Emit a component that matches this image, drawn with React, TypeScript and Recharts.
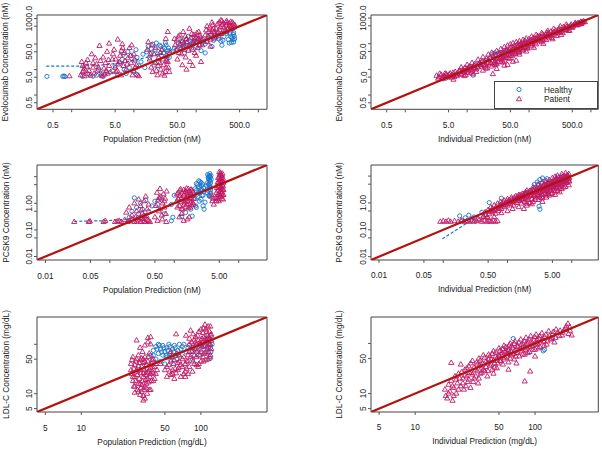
import React from "react";
import { ScatterChart, Scatter, XAxis, YAxis, ReferenceArea } from "recharts";

type Pt = [number, number];

// ---- axis ticks ----
const EVO_TICKS = [0.5, 1, 5, 10, 50, 100, 500, 1000];
const EVO_X_LABELS = ["0.5", "", "5.0", "", "50.0", "", "500.0", ""];
const EVO_Y_LABELS = ["0.5", "", "5.0", "", "50.0", "", "", "1000.0"];
const PCSK9_TICKS = [0.01, 0.05, 0.1, 0.5, 1, 5, 10];
const PCSK9_X_LABELS = ["0.01", "0.05", "", "0.50", "", "5.00", ""];
const PCSK9_Y_LABELS = ["0.01", "", "0.10", "", "1.00", "", ""];
const LDL_TICKS = [5, 10, 50, 100];
const LDL_X_LABELS = ["5", "10", "50", "100"];
const LDL_Y_LABELS = ["5", "10", "50", ""];

const GROUPS = ["Healthy", "Patient"];

// ---- Evolocumab, population prediction ----
const EVO_POP_HEALTHY: Pt[] = [
  [0.4, 5.4], [0.72, 5.4], [0.75, 5.6], [0.78, 5.3], [1.5, 5.4], [1.9, 6.5], [2.2, 5.5], [2.5, 6], [2.7, 10], [3.0, 7],
  [3.2, 5.4], [3.6, 8], [4.5, 9], [5, 14], [5.5, 6], [6, 18], [6.5, 25], [6.8, 40], [7, 10], [7.5, 7], [8, 50],
  [8.5, 12], [9, 35], [10, 8], [10.5, 22], [10.8, 60], [11, 6.5], [11.2, 30], [12, 14], [13, 20], [14, 40], [15, 12],
  [16, 50], [17, 80], [18, 30], [19, 65], [19, 45], [20, 100], [21, 15], [22, 60], [23, 110], [24, 40], [25, 20],
  [26, 90], [27, 80], [28, 35], [29, 60], [30, 45], [31, 70], [32, 110], [33, 90], [34, 25], [35, 55], [36, 70],
  [37, 30], [38, 55], [45, 70], [50, 60], [52, 110], [55, 90], [58, 130], [60, 120], [62, 70], [65, 45], [68, 90],
  [70, 150], [75, 200], [78, 140], [80, 100], [85, 70], [88, 100], [90, 130], [95, 180], [100, 80], [105, 120],
  [110, 160], [115, 90], [120, 55], [125, 110], [130, 150], [140, 100], [140, 45], [150, 130], [160, 180], [170, 220],
  [180, 80], [190, 140], [200, 160], [210, 200], [220, 250], [230, 160], [250, 130], [260, 90], [270, 140], [280, 200],
  [300, 320], [310, 260], [330, 150], [340, 110], [350, 250], [360, 200], [370, 115], [380, 180], [390, 150],
  [395, 240], [400, 280], [400, 120], [410, 200], [415, 160],
];
const EVO_POP_PATIENT: Pt[] = [
  [0.92, 5.5], [1.4, 6], [1.45, 20], [1.5, 8], [1.5, 14], [1.55, 9], [1.6, 5.5], [1.6, 11], [1.7, 18], [1.75, 13],
  [1.8, 7], [1.8, 24], [1.9, 9], [2.0, 5.8], [2.1, 40], [2.2, 12], [2.2, 18], [2.3, 7], [2.4, 28], [2.5, 16], [2.6, 9],
  [2.7, 12], [2.8, 85], [2.9, 22], [3.0, 6], [3.1, 5.5], [3.2, 30], [3.3, 11], [3.4, 6.5], [3.5, 18], [3.6, 9],
  [3.7, 50], [3.8, 7], [3.9, 24], [4.0, 105], [4.0, 14], [4.2, 8], [4.5, 25], [4.6, 40], [4.8, 60], [5, 12], [5.1, 25],
  [5.2, 8], [5.4, 9], [5.5, 150], [5.6, 16], [5.8, 20], [6, 35], [6.2, 6], [6.3, 55], [6.5, 100], [6.6, 70], [6.8, 14],
  [7, 45], [7.2, 22], [7.5, 10], [7.8, 16], [8, 28], [8.5, 70], [8.8, 35], [9, 18], [9.2, 90], [9.5, 6], [9.8, 9],
  [10, 40], [10.2, 25], [10.5, 12], [11, 15], [11.5, 6], [12, 5.5], [16.5, 60], [17, 120], [18, 25], [18.5, 40],
  [19, 12], [19.5, 90], [20, 8], [21, 40], [22, 18], [22.5, 70], [23, 9], [24, 6], [24.5, 14], [25, 30], [26, 18],
  [26.5, 45], [27, 10], [28, 60], [29, 7], [29.5, 25], [30, 15], [31, 5.8], [32, 8], [32.5, 160], [33, 22], [33, 12],
  [34, 35], [35, 300], [35, 20], [36, 12], [37, 8], [38, 45], [45, 160], [46, 90], [48, 60], [49, 140], [50, 25],
  [52, 200], [53, 45], [55, 100], [55, 220], [57, 70], [58, 40], [60, 15], [60, 130], [62, 300], [63, 110], [65, 80],
  [65, 60], [67, 200], [68, 30], [70, 160], [70, 10], [72, 120], [75, 55], [77, 80], [78, 400], [80, 20], [82, 170],
  [85, 250], [87, 60], [88, 14], [90, 110], [92, 230], [95, 45], [95, 150], [98, 120], [100, 180], [100, 35],
  [103, 270], [105, 70], [108, 160], [110, 300], [113, 90], [115, 130], [115, 220], [118, 180], [120, 20], [123, 140],
  [125, 90], [140, 220], [145, 350], [150, 500], [150, 120], [155, 200], [160, 300], [165, 450], [170, 150], [170, 80],
  [175, 260], [180, 700], [180, 350], [185, 550], [190, 400], [195, 300], [200, 250], [200, 180], [210, 400],
  [220, 600], [225, 300], [230, 200], [235, 700], [240, 350], [245, 450], [250, 850], [255, 250], [260, 550],
  [260, 800], [270, 650], [280, 450], [290, 350], [300, 300], [300, 700], [305, 550], [310, 800], [320, 650],
  [325, 400], [340, 500], [345, 650], [350, 380], [360, 750], [365, 480], [380, 420], [385, 700], [400, 600],
  [405, 450], [420, 550],
];
const EVO_POP_SMOOTH: Pt[] = [
  [0.39, 13.7], [1.4, 13.7], [3, 15], [6, 18], [12, 25], [25, 40], [50, 70], [100, 120], [200, 200], [400, 330],
];

// ---- Evolocumab, individual prediction ----
const EVO_IND_HEALTHY: Pt[] = [
  [4.5, 4.5], [6, 5.5], [9, 9], [12, 12], [12.5, 5.9], [15, 16], [18, 19], [20, 22], [24, 28], [26, 40], [28, 44],
  [32, 42], [36, 45], [40, 48], [45, 55], [60, 65], [80, 90], [120, 130], [200, 210], [300, 320], [450, 470],
  [600, 620], [700, 720],
];
const EVO_IND_PATIENT: Pt[] = [
  [3.2, 5.7], [3.4, 4.4], [3.5, 5.0], [3.6, 6.8], [3.8, 6.2], [3.9, 4.2], [4.0, 4.6], [4.2, 5.4], [4.3, 5.5],
  [4.4, 7], [4.6, 6.5], [4.7, 5.8], [4.8, 4.9], [5.0, 5.2], [5.1, 6.3], [5.3, 7.0], [5.5, 5.6], [5.6, 4.8], [5.8, 6.0],
  [5.9, 7.4], [6.0, 4.0], [6.2, 5.2], [6.4, 8.0], [6.6, 6.3], [6.8, 5.5], [7.0, 6.8], [7.2, 7.5], [7.4, 8.5],
  [7.6, 9.0], [7.8, 6.2], [8.0, 6.5], [8.0, 12], [8.3, 8.2], [8.5, 10], [8.8, 9], [9.0, 7.8], [9.0, 5.5], [9.2, 11.5],
  [9.5, 6.0], [9.8, 9.5], [10, 11], [10, 15], [10.2, 7.2], [10.5, 8.5], [10.8, 12], [11, 13], [11.2, 9.8],
  [11.5, 7.5], [12, 9], [12, 18], [12.5, 6.5], [12.8, 11], [13, 14], [13.2, 16], [13.5, 11], [14, 10], [14, 8],
  [14.5, 13], [15, 12], [15, 24], [15.5, 16], [16, 18], [16.5, 15], [17, 13], [17.5, 21], [18, 9], [18, 30],
  [18.5, 15], [19, 20], [19.5, 13], [20, 15], [20, 11], [20.5, 26], [21, 11], [21.5, 18], [22, 24], [22, 38], [23, 16],
  [23.5, 28], [24, 18], [25, 13], [25, 45], [26, 6.6], [26, 21], [26.5, 33], [27, 28], [27.5, 18], [28, 21], [28, 15],
  [29, 17], [29.5, 36], [30, 16], [30, 10.5], [30, 52], [31, 25], [31.5, 20], [32, 35], [33, 25], [33.5, 42], [34, 28],
  [35, 19], [35, 62], [36, 30], [36.5, 24], [37, 40], [37.5, 48], [38, 30], [38, 19], [39, 36], [40, 22], [40, 14],
  [40, 75], [41, 34], [42, 50], [42.5, 28], [43, 58], [44, 35], [45, 15], [45, 85], [46, 28], [46.5, 50], [47, 42],
  [48, 60], [48, 26], [49, 34], [50, 42], [50, 95], [51, 70], [52, 50], [53, 33], [54, 56], [55, 70], [55, 20],
  [55, 105], [56, 38], [57, 45], [58, 50], [59, 80], [60, 40], [61, 60], [62, 22], [62, 115], [63, 85], [64, 55],
  [65, 72], [66, 60], [67, 100], [68, 45], [69, 56], [70, 48], [70, 125], [70, 38], [72, 95], [73, 70], [74, 85],
  [75, 70], [76, 110], [78, 60], [79, 65], [80, 55], [80, 140], [82, 90], [84, 95], [85, 110], [86, 130], [88, 75],
  [90, 80], [90, 160], [90, 50], [92, 100], [94, 70], [95, 65], [97, 100], [99, 150], [100, 125], [104, 115],
  [105, 95], [108, 140], [110, 80], [110, 190], [112, 95], [115, 120], [118, 170], [120, 150], [120, 70], [124, 130],
  [125, 110], [128, 160], [130, 95], [130, 220], [135, 140], [138, 200], [140, 175], [145, 150], [150, 130],
  [152, 190], [155, 160], [160, 115], [160, 260], [165, 240], [168, 140], [170, 210], [170, 100], [175, 180],
  [180, 160], [185, 230], [190, 140], [195, 270], [200, 240], [200, 320], [205, 200], [210, 260], [215, 190],
  [225, 300], [230, 170], [235, 220], [240, 260], [240, 150], [250, 290], [250, 380], [260, 230], [270, 330],
  [280, 200], [285, 260], [290, 300], [300, 350], [310, 390], [320, 280], [320, 480], [330, 220], [335, 300],
  [340, 330], [350, 260], [360, 450], [365, 360], [380, 420], [390, 350], [400, 350], [400, 560], [410, 470],
  [420, 400], [430, 320], [450, 430], [450, 320], [470, 500], [480, 560], [490, 450], [500, 420], [520, 480],
  [530, 540], [550, 600], [560, 650], [580, 540], [600, 520], [620, 640], [640, 560], [650, 650], [680, 580],
  [690, 720], [700, 600], [720, 680], [750, 680], [760, 760], [800, 700],
];

// ---- PCSK9, population prediction ----
const PCSK9_POP_HEALTHY: Pt[] = [
  [0.2, 0.3], [0.22, 0.5], [0.24, 1.6], [0.26, 0.7], [0.28, 0.4], [0.3, 1.0], [0.32, 0.6], [0.34, 0.35], [0.36, 1.3],
  [0.4, 0.5], [0.45, 0.8], [0.5, 1.2], [0.55, 0.9], [0.6, 1.5], [0.7, 0.4], [0.9, 0.22], [0.95, 0.3], [1.0, 2.0],
  [0.9, 0.9], [1.3, 0.32], [1.5, 0.45], [1.9, 0.33], [1.8, 0.6], [2.1, 1.5], [2.1, 3.5], [2.15, 0.8], [2.2, 3],
  [2.2, 5.5], [2.25, 2.2], [2.3, 5], [2.3, 1.8], [2.35, 4.2], [2.4, 7], [2.4, 2.6], [2.45, 1.2], [2.5, 2.5], [2.5, 4],
  [2.5, 6.5], [2.55, 3.2], [2.6, 1.4], [2.6, 6], [2.65, 4.6], [2.7, 3.2], [2.7, 2.0], [2.75, 5.3], [2.8, 2],
  [2.8, 0.8], [2.85, 3.8], [2.9, 0.6], [2.9, 2.8], [2.2, 0.7], [3.0, 1.1], [3.2, 4.5], [3.25, 2.5], [3.3, 12],
  [3.3, 6], [3.3, 3.5], [3.35, 9], [3.4, 8.5], [3.4, 3], [3.4, 5.2], [3.45, 11], [3.45, 1.9], [3.5, 10], [3.5, 2],
  [3.5, 5], [3.5, 7.5], [3.55, 4], [3.55, 13], [3.6, 7], [3.6, 1.8], [3.6, 9.5], [3.65, 3.2], [3.65, 5.8], [3.7, 11],
  [3.7, 4], [3.7, 2.4], [3.75, 8],
];
const PCSK9_POP_PATIENT: Pt[] = [
  [0.028, 0.2], [0.047, 0.2], [0.049, 0.21], [0.08, 0.2], [0.085, 0.22], [0.12, 0.2], [0.13, 0.21], [0.14, 0.22],
  [0.15, 0.2], [0.17, 0.24], [0.19, 0.2], [0.2, 0.22], [0.22, 0.25], [0.24, 0.2], [0.26, 0.21], [0.28, 0.23],
  [0.3, 0.2], [0.32, 0.26], [0.34, 0.21], [0.36, 0.2], [0.38, 0.24], [0.4, 0.22], [0.42, 0.2], [0.25, 0.3],
  [0.3, 0.28], [0.35, 0.32], [0.18, 0.45], [0.2, 0.7], [0.22, 0.35], [0.24, 1.0], [0.26, 0.5], [0.28, 1.4],
  [0.3, 0.8], [0.32, 0.42], [0.34, 1.2], [0.36, 1.8], [0.38, 0.6], [0.4, 0.9], [0.27, 0.28], [0.31, 0.55],
  [0.37, 0.33], [0.5, 0.3], [0.52, 0.8], [0.54, 2.5], [0.56, 1.3], [0.58, 0.5], [0.6, 3.5], [0.62, 1.8], [0.65, 0.25],
  [0.66, 1.0], [0.68, 2.2], [0.7, 0.7], [0.72, 1.5], [0.74, 0.4], [0.76, 2.8], [0.55, 0.22], [0.6, 0.6], [0.7, 1.2],
  [0.75, 0.2], [0.58, 1.6], [0.64, 0.35], [1.1, 1.2], [1.1, 2.2], [1.12, 0.7], [1.15, 2.5], [1.15, 1.5], [1.2, 0.8],
  [1.2, 1.9], [1.22, 3.0], [1.25, 3.4], [1.25, 1.1], [1.3, 1.6], [1.3, 0.6], [1.32, 2.6], [1.35, 0.6], [1.35, 1.3],
  [1.4, 2.0], [1.4, 3.2], [1.42, 0.9], [1.45, 1.1], [1.45, 2.3], [1.5, 2.8], [1.5, 1.5], [1.52, 0.75], [1.55, 0.9],
  [1.55, 3.6], [1.6, 1.8], [1.6, 1.2], [1.62, 2.5], [1.65, 3.5], [1.65, 0.65], [1.7, 1.3], [1.7, 2.0], [1.72, 2.9],
  [1.75, 0.7], [1.75, 1.6], [1.8, 2.4], [1.8, 1.1], [1.82, 3.3], [1.85, 1.5], [1.85, 0.85], [1.9, 3.0], [1.9, 1.9],
  [1.95, 1.0], [1.95, 2.6], [2.0, 0.9], [2.0, 1.5], [1.2, 0.3], [1.3, 0.4], [1.6, 0.25], [1.7, 0.3], [1.4, 0.22],
  [3.8, 2.0], [3.9, 1.2], [4.0, 1.5], [4.1, 0.9], [4.4, 1.6], [4.5, 2.5], [4.5, 1.2], [4.6, 1.5], [4.6, 3.8], [4.7, 2],
  [4.7, 6], [4.8, 3], [4.8, 1.4], [4.8, 9], [4.9, 6], [4.9, 1.2], [4.9, 4.2], [5.0, 10], [5.0, 2.2], [5.0, 15],
  [5.0, 5.5], [5.1, 4.5], [5.1, 12], [5.1, 1.8], [5.1, 7.5], [5.2, 14], [5.2, 8], [5.2, 2.8], [5.2, 3.8], [5.3, 1.8],
  [5.3, 3.5], [5.3, 11], [5.3, 5.8], [5.4, 6.5], [5.4, 4], [5.4, 2.3], [5.4, 9], [5.5, 11], [5.5, 2.6], [5.5, 7],
  [5.5, 1.5], [5.6, 5], [5.6, 2], [5.6, 13], [5.6, 3.3], [5.7, 1.4], [5.7, 8.5], [5.7, 4.3], [5.8, 3.2], [5.8, 6],
  [5.8, 2.1],
];
const PCSK9_POP_SMOOTH: Pt[] = [
  [0.028, 0.21], [0.08, 0.22], [0.15, 0.24], [0.25, 0.28], [0.4, 0.4], [0.8, 0.8], [1.5, 1.5], [2.5, 2.5], [3.7, 4],
];

// ---- PCSK9, individual prediction ----
const PCSK9_IND_HEALTHY: Pt[] = [
  [0.18, 0.33], [0.2, 0.22], [0.22, 0.28], [0.25, 0.35], [0.28, 0.25], [0.3, 0.3], [0.4, 0.45], [0.52, 1.03],
  [0.8, 1.5], [1.0, 1.1], [1.5, 1.6], [2.0, 2.4], [2.5, 3.0], [2.6, 4.8], [2.7, 3.8], [2.9, 6], [3.0, 5], [3.1, 0.75],
  [3.2, 0.58], [3.2, 7.5], [3.4, 5.5], [3.4, 1.6], [3.5, 8.5], [3.8, 6.5], [4.1, 8], [4.5, 6], [5.5, 7], [6, 9], [7, 10],
];
const PCSK9_IND_PATIENT: Pt[] = [
  [0.09, 0.2], [0.1, 0.21], [0.11, 0.2], [0.12, 0.22], [0.13, 0.2], [0.15, 0.21], [0.17, 0.2], [0.19, 0.22],
  [0.21, 0.2], [0.23, 0.21], [0.25, 0.2], [0.28, 0.22], [0.3, 0.2], [0.33, 0.21], [0.36, 0.23], [0.4, 0.2],
  [0.44, 0.22], [0.48, 0.2], [0.52, 0.21], [0.56, 0.2], [0.6, 0.22], [0.65, 0.2], [0.7, 0.21], [0.35, 0.26],
  [0.42, 0.3], [0.5, 0.27], [0.62, 0.3], [0.42, 0.32], [0.45, 0.45], [0.46, 0.36], [0.48, 0.3], [0.5, 0.55],
  [0.52, 0.38], [0.53, 0.48], [0.55, 0.7], [0.57, 0.45], [0.58, 0.6], [0.6, 0.5], [0.62, 0.82], [0.63, 0.55],
  [0.65, 0.4], [0.67, 0.72], [0.68, 0.6], [0.7, 0.95], [0.72, 0.5], [0.73, 0.65], [0.75, 0.75], [0.77, 0.85],
  [0.78, 1.1], [0.8, 0.6], [0.8, 0.42], [0.82, 0.75], [0.84, 0.9], [0.86, 1.05], [0.88, 1.25], [0.9, 0.7],
  [0.92, 0.85], [0.95, 1.0], [0.97, 1.2], [1.0, 1.4], [1.0, 0.8], [1.0, 0.5], [1.03, 0.95], [1.05, 1.15], [1.08, 1.3],
  [1.1, 0.9], [1.13, 1.05], [1.15, 1.6], [1.18, 1.4], [1.2, 1.1], [1.2, 0.6], [1.23, 1.2], [1.25, 0.8], [1.28, 1.6],
  [1.3, 1.35], [1.33, 1.15], [1.35, 1.8], [1.38, 1.5], [1.4, 1.0], [1.43, 1.25], [1.45, 1.5], [1.48, 1.75],
  [1.5, 2.0], [1.5, 0.7], [1.53, 1.4], [1.55, 1.2], [1.58, 1.95], [1.6, 1.7], [1.63, 1.5], [1.65, 0.95], [1.68, 1.8],
  [1.7, 2.2], [1.73, 1.25], [1.75, 1.4], [1.78, 2.1], [1.8, 1.9], [1.8, 0.6], [1.83, 1.65], [1.85, 1.1], [1.88, 2.2],
  [1.9, 2.5], [1.93, 1.45], [1.98, 2.4], [2.0, 1.6], [2.0, 0.95], [2.0, 0.8], [2.0, 2.9], [2.05, 2.1], [2.08, 1.8],
  [2.1, 1.3], [2.15, 2.45], [2.2, 2.8], [2.2, 1.0], [2.25, 2.0], [2.3, 1.8], [2.32, 2.9], [2.35, 2.3], [2.4, 1.4],
  [2.4, 0.9], [2.45, 2.3], [2.5, 3.1], [2.5, 1.1], [2.5, 3.8], [2.55, 2.7], [2.6, 2.0], [2.65, 1.8], [2.7, 2.6],
  [2.7, 1.3], [2.75, 1.6], [2.8, 3.0], [2.85, 3.5], [2.9, 2.0], [2.95, 2.3], [3.0, 3.4], [3.0, 1.3], [3.0, 4.8],
  [3.05, 2.9], [3.1, 1.8], [3.15, 2.4], [3.2, 4.0], [3.2, 1.6], [3.25, 3.5], [3.3, 2.6], [3.35, 2.2], [3.4, 3.2],
  [3.45, 3.9], [3.5, 2.0], [3.5, 1.5], [3.5, 1.1], [3.5, 5.8], [3.55, 2.7], [3.6, 4.5], [3.65, 3.4], [3.7, 2.9],
  [3.75, 4.8], [3.8, 3.6], [3.85, 3.1], [3.9, 2.3], [3.95, 4.2], [4.0, 5.0], [4.0, 1.9], [4.0, 1.6], [4.0, 6.6],
  [4.05, 2.8], [4.1, 3.3], [4.15, 4.6], [4.2, 4.1], [4.25, 3.7], [4.3, 2.6], [4.3, 2.1], [4.4, 5.2], [4.5, 5.6],
  [4.5, 1.9], [4.5, 7.2], [4.55, 3.2], [4.6, 3.7], [4.65, 5.0], [4.7, 4.6], [4.75, 3.9], [4.8, 2.9], [4.8, 2.2],
  [4.9, 5.8], [5.0, 6.2], [5.0, 2.3], [5.0, 8.5], [5.05, 3.5], [5.1, 4.1], [5.15, 5.5], [5.2, 5.1], [5.25, 4.5],
  [5.3, 3.2], [5.4, 6.6], [5.5, 7.0], [5.5, 2.7], [5.5, 2.0], [5.5, 9.5], [5.55, 4.0], [5.6, 4.6], [5.65, 6.2],
  [5.7, 5.7], [5.75, 5.0], [5.8, 3.6], [5.9, 7.2], [6.0, 7.8], [6.0, 2.8], [6.0, 10.5], [6.05, 4.5], [6.1, 5.1],
  [6.15, 6.8], [6.2, 6.3], [6.3, 5.4], [6.4, 4.0], [6.5, 7.5], [6.5, 3.4], [6.5, 2.5], [6.6, 8.5], [6.7, 5.6],
  [6.7, 4.8], [6.8, 7.0], [6.9, 8.0], [7.0, 4.5], [7.0, 3.3], [7.0, 12], [7.1, 6.0], [7.2, 9.3], [7.3, 6.2],
  [7.4, 7.7], [7.5, 8.8], [7.5, 3.8], [7.6, 5.0], [7.7, 6.4], [7.8, 10], [7.9, 7.2], [8.0, 6.8], [8.0, 4.0], [8.0, 13],
  [8.1, 9.5], [8.2, 8.4], [8.3, 6.2], [8.4, 5.6], [8.5, 8.0], [8.6, 11], [8.7, 10], [8.8, 7.5], [8.9, 6.8], [9.0, 9.0],
  [9.0, 4.6], [9.0, 12], [9.1, 8.2], [9.2, 6.3],
];
const PCSK9_IND_SMOOTH: Pt[] = [
  [0.097, 0.046], [0.2, 0.14], [0.4, 0.4], [1, 1.1], [3, 3.5], [7, 8],
];

// ---- LDL-C, population prediction ----
const LDL_POP_HEALTHY: Pt[] = [
  [38, 60], [40, 75], [40, 60], [42, 90], [42, 50], [43, 80], [44, 100], [44, 65], [45, 95], [46, 80], [46, 45],
  [47, 70], [48, 95], [48, 60], [49, 85], [50, 70], [50, 40], [51, 60], [52, 85], [52, 55], [53, 75], [54, 100],
  [55, 65], [55, 90], [56, 48], [57, 60], [58, 80], [59, 70], [60, 95], [61, 85], [62, 60], [63, 50], [64, 75],
  [65, 60], [66, 100], [68, 80], [70, 90], [72, 100], [75, 70], [78, 85], [80, 95], [84, 75], [85, 50], [90, 90],
  [92, 70], [95, 60], [98, 95], [100, 80], [105, 110], [108, 95], [110, 70], [112, 130], [115, 100], [116, 85],
  [120, 52], [120, 85], [121, 70], [124, 100],
];
const LDL_POP_PATIENT: Pt[] = [
  [26, 40], [26, 30], [26.5, 25], [26.5, 48], [27, 18], [27, 55], [27, 22], [27.5, 32], [27.5, 14], [28, 14], [28, 22],
  [28, 38], [28, 10.5], [28.5, 45], [28.5, 18], [29, 120], [29, 28], [29, 30], [29, 50], [29.5, 12], [29.5, 24],
  [30, 36], [30, 60], [30, 16], [30, 11], [30.5, 20], [30.5, 42], [31, 16], [31, 48], [31, 9.5], [31, 30], [31, 85],
  [31.5, 26], [31.5, 13], [32, 11], [32, 35], [32, 52], [32, 15], [32.5, 70], [32.5, 18], [33, 7.3], [33, 22],
  [33, 42], [33, 50], [33, 26], [33, 9], [33.5, 30], [33.5, 12], [34, 14], [34, 55], [34, 8], [34, 44], [34, 95],
  [34.5, 19], [34.5, 24], [35, 38], [35, 26], [35, 16], [35, 13], [35.5, 10], [35.5, 32], [36, 135], [36, 45],
  [36, 28], [36, 20], [36, 110], [36.5, 17], [36.5, 56], [37, 30], [37, 65], [37, 12], [37.5, 22], [37.5, 38],
  [38, 140], [38, 12], [38, 25], [38, 100], [38.5, 40], [38.5, 18], [39, 28], [39, 48], [39.5, 34], [40, 50],
  [40, 18], [40, 26], [41, 35], [41, 20], [42, 25], [42, 40], [43, 30], [46, 40], [50, 30], [52, 22], [52, 35],
  [54, 38], [55, 28], [56, 45], [56, 70], [56, 24], [57, 55], [58, 25], [58, 30], [59, 40], [60, 48],
  [60, 20], [61, 32], [62, 160], [62, 26], [63, 65], [64, 42], [64, 30], [65, 33], [66, 60], [66, 45], [68, 22],
  [68, 38], [70, 35], [70, 50], [72, 55], [72, 25], [74, 28], [74, 22], [74, 40], [75, 150], [76, 45], [76, 32],
  [78, 60], [78, 25], [78, 45], [80, 100], [80, 35], [80, 70], [80, 130], [82, 190], [82, 55], [84, 70], [84, 110],
  [85, 28], [85, 85], [86, 45], [86, 160], [88, 120], [88, 60], [88, 40], [90, 80], [90, 140], [90, 110], [92, 55],
  [92, 100], [92, 38], [94, 150], [94, 75], [95, 35], [95, 120], [96, 40], [96, 180], [98, 100], [98, 60], [100, 70],
  [100, 200], [100, 120], [100, 45], [100, 100], [102, 130], [102, 90], [104, 55], [104, 170], [105, 45], [105, 210],
  [106, 90], [106, 65], [106, 140], [108, 250], [108, 130], [110, 110], [110, 65], [110, 200], [110, 48], [112, 180],
  [112, 90], [112, 120], [114, 80], [114, 150], [115, 50], [115, 230], [116, 140], [116, 70], [118, 100], [118, 180],
  [118, 55], [118, 130], [120, 60], [120, 230], [120, 100], [121, 150], [122, 120], [122, 80], [122, 160],
];

// ---- LDL-C, individual prediction ----
const LDL_IND_HEALTHY: Pt[] = [
  [35, 38], [50, 55], [60, 70], [65.8, 125], [80, 85], [100, 95], [117, 71], [120, 75], [140, 130],
];
const LDL_IND_PATIENT: Pt[] = [
  [17.7, 12], [18, 9], [18.5, 8], [19, 15], [19, 10], [19.5, 11], [20, 41], [20, 18], [20.5, 7.2], [20.5, 14],
  [21, 13], [21, 9], [21.5, 22], [22, 10], [22, 19], [22.5, 16], [23, 25], [23, 12], [23.5, 20], [24, 38], [24, 14],
  [24.5, 27], [25, 20], [25, 16], [25.5, 12], [26, 30], [26, 23], [26.5, 14], [27, 22], [27, 32], [27.5, 17], [28, 35],
  [28, 19], [28.5, 26], [29, 13], [29, 40], [29.5, 26], [30, 45], [30, 24], [30.5, 17], [31, 20], [31, 33], [32, 30],
  [32, 22], [32.5, 42], [33, 38], [33, 28], [33.5, 16], [34, 50], [34, 20], [34.5, 36], [35, 25], [35, 46], [36, 33],
  [36, 26], [36.5, 40], [37, 58], [37, 30], [38, 28], [38, 52], [39, 44], [39, 34], [40, 22], [40, 40], [40.5, 28],
  [41, 60], [41, 48], [42, 36], [42, 56], [43, 48], [43, 38], [44, 30], [44, 62], [45, 70], [45, 25], [45, 45],
  [46, 40], [46, 33], [47, 55], [47, 66], [48, 32], [48, 50], [49, 40], [50, 80], [50, 58], [51, 45], [51, 72],
  [52, 60], [52, 44], [53, 64], [54, 38], [54, 78], [55, 90], [55, 48], [56, 52], [56, 68], [57, 85], [58, 70],
  [58, 55], [59, 62], [60, 42], [60, 30], [60, 75], [61, 92], [62, 100], [62, 50], [63, 58], [63, 70], [64, 88],
  [65, 80], [66, 62], [67, 48], [67, 98], [68, 110], [68, 72], [69, 55], [70, 65], [70, 40], [71, 90], [72, 85],
  [72, 65], [73, 105], [74, 55], [75, 78], [76, 120], [77, 95], [78, 72], [79, 60], [80, 95], [81, 110], [82, 17.5],
  [82, 60], [83, 75], [84, 130], [85, 100], [86, 80], [87, 65], [88, 105], [89, 120], [90, 68], [91, 27.6], [91, 85],
  [92, 140], [93, 110], [95, 90], [96, 75], [98, 115], [99, 135], [100, 75], [100, 55], [101, 95], [102, 150],
  [104, 120], [105, 100], [107, 80], [108, 125], [109, 140], [110, 85], [112, 105], [114, 160], [116, 125],
  [118, 110], [119, 90], [120, 135], [123, 150], [125, 95], [127, 110], [130, 175], [132, 140], [135, 120],
  [138, 125], [140, 150], [142, 170], [145, 105], [148, 130], [150, 190], [155, 165], [160, 140], [162, 180],
  [168, 145], [170, 165], [175, 185], [180, 200], [182, 220], [188, 248], [190, 155], [195, 210], [196, 180],
  [202, 145],
];

// ---- styling ----
const HEALTHY_COLOR = "#1874CD";
const PATIENT_COLOR = "#BE1A64";
const LINE_COLOR = "#B3120E";
const FONT = "'Liberation Sans', Arial, sans-serif";
const TEXT_COLOR = "#1a1a1a";
const FS = 8.3;

const Y_AXIS_W = 37;
const M_TOP = 14;
const X_AXIS_H = 38;
const M_RIGHT = 3;

const toObj = (pts: Pt[]) => pts.map(([x, y]) => ({ x, y }));

const circleShape = (p: any) =>
  p.cx == null ? <g /> : (
    <circle cx={p.cx} cy={p.cy} r={2.1} fill="none" stroke={HEALTHY_COLOR} strokeWidth={0.9} />
  );
const triShape = (p: any) =>
  p.cx == null ? <g /> : (
    <path
      d={`M${p.cx},${p.cy - 2.9}L${p.cx + 2.6},${p.cy + 1.6}L${p.cx - 2.6},${p.cy + 1.6}Z`}
      fill="none"
      stroke={PATIENT_COLOR}
      strokeWidth={0.9}
    />
  );
const noShape = () => <g />;

interface PanelProps {
  boxLeft: number;
  boxTop: number;
  boxW: number;
  boxH: number;
  domain: [number, number];
  ticks: number[];
  xLabels: string[];
  yLabels: string[];
  xTitle: string;
  yTitle: string;
  healthy: Pt[];
  patient: Pt[];
  smooth?: Pt[];
}

function Panel(p: PanelProps) {
  const width = Y_AXIS_W + p.boxW + M_RIGHT;
  const height = M_TOP + p.boxH + X_AXIS_H;
  const [lo, hi] = p.domain;
  const boxBottom = M_TOP + p.boxH;

  const xTick = (t: any) => {
    const i = p.ticks.indexOf(t.payload.value);
    return (
      <text x={t.x} y={boxBottom + 18.5} textAnchor="middle" fontSize={FS} fontFamily={FONT} fill={TEXT_COLOR}>
        {p.xLabels[i] ?? ""}
      </text>
    );
  };
  const yTick = (t: any) => {
    const i = p.ticks.indexOf(t.payload.value);
    const tx = Y_AXIS_W - 4.5;
    return (
      <text
        x={tx}
        y={t.y}
        transform={`rotate(-90 ${tx} ${t.y})`}
        textAnchor="middle"
        fontSize={FS}
        fontFamily={FONT}
        fill={TEXT_COLOR}
      >
        {p.yLabels[i] ?? ""}
      </text>
    );
  };
  const cx = Y_AXIS_W + p.boxW / 2;
  const cy = M_TOP + p.boxH / 2;

  return (
    <div style={{ position: "absolute", left: p.boxLeft - Y_AXIS_W, top: p.boxTop - M_TOP }}>
      <ScatterChart width={width} height={height} margin={{ top: M_TOP, right: M_RIGHT, bottom: 0, left: 0 }}>
        <XAxis
          type="number"
          dataKey="x"
          scale="log"
          domain={[lo, hi]}
          allowDataOverflow
          ticks={p.ticks}
          interval={0}
          axisLine={false}
          tickSize={3}
          tickLine={{ stroke: "#555" }}
          tick={xTick}
          height={X_AXIS_H}
          label={() => (
            <text x={cx} y={boxBottom + 32.5} textAnchor="middle" fontSize={FS} fontFamily={FONT} fill={TEXT_COLOR}>
              {p.xTitle}
            </text>
          )}
        />
        <YAxis
          type="number"
          dataKey="y"
          scale="log"
          domain={[lo, hi]}
          allowDataOverflow
          ticks={p.ticks}
          interval={0}
          axisLine={false}
          tickSize={3}
          tickLine={{ stroke: "#555" }}
          tick={yTick}
          width={Y_AXIS_W}
          label={() => (
            <text
              x={8.5}
              y={cy}
              transform={`rotate(-90 8.5 ${cy})`}
              textAnchor="middle"
              fontSize={FS}
              fontFamily={FONT}
              fill={TEXT_COLOR}
            >
              {p.yTitle}
            </text>
          )}
        />
        <ReferenceArea x1={lo} x2={hi} y1={lo} y2={hi} fill="none" stroke="#444" strokeWidth={1} ifOverflow="visible" />
        {p.smooth && (
          <Scatter
            data={toObj(p.smooth)}
            shape={noShape}
            line={{ stroke: HEALTHY_COLOR, strokeWidth: 1.2, strokeDasharray: "3 2" }}
            isAnimationActive={false}
          />
        )}
        <Scatter name={GROUPS[0]} data={toObj(p.healthy)} shape={circleShape} isAnimationActive={false} />
        <Scatter name={GROUPS[1]} data={toObj(p.patient)} shape={triShape} isAnimationActive={false} />
        <Scatter
          data={[{ x: lo, y: lo }, { x: hi, y: hi }]}
          shape={noShape}
          line={{ stroke: LINE_COLOR, strokeWidth: 2.2 }}
          isAnimationActive={false}
        />
      </ScatterChart>
    </div>
  );
}

function LegendBox() {
  return (
    <div
      style={{
        position: "absolute",
        left: 494,
        top: 81,
        width: 104,
        height: 28,
        border: "1px solid #444",
        background: "#fff",
        boxSizing: "border-box",
      }}
    >
      <svg width={102} height={26}>
        <circle cx={24} cy={7.5} r={2.1} fill="none" stroke={HEALTHY_COLOR} strokeWidth={0.9} />
        <path d="M24,14.3L26.6,18.8L21.4,18.8Z" fill="none" stroke={PATIENT_COLOR} strokeWidth={0.9} />
        <text x={49} y={10.5} fontSize={FS} fontFamily={FONT} fill={TEXT_COLOR}>{GROUPS[0]}</text>
        <text x={49} y={20} fontSize={FS} fontFamily={FONT} fill={TEXT_COLOR}>{GROUPS[1]}</text>
      </svg>
    </div>
  );
}

export default function App() {
  return (
    <div style={{ position: "absolute", left: 0, top: 0, width: 602, height: 449, background: "#fff", overflow: "hidden" }}>
      <Panel
        boxLeft={36.7} boxTop={15} boxW={230} boxH={94.3} domain={[0.277, 1378]}
        ticks={EVO_TICKS} xLabels={EVO_X_LABELS} yLabels={EVO_Y_LABELS}
        xTitle="Population Prediction (nM)" yTitle="Evolocumab Concentration (nM)"
        healthy={EVO_POP_HEALTHY} patient={EVO_POP_PATIENT} smooth={EVO_POP_SMOOTH}
      />
      <Panel
        boxLeft={371} boxTop={15} boxW={227.3} boxH={94.3} domain={[0.279, 1316]}
        ticks={EVO_TICKS} xLabels={EVO_X_LABELS} yLabels={EVO_Y_LABELS}
        xTitle="Individual Prediction (nM)" yTitle="Evolocumab Concentration (nM)"
        healthy={EVO_IND_HEALTHY} patient={EVO_IND_PATIENT}
      />
      <Panel
        boxLeft={36.7} boxTop={165} boxW={230} boxH={95} domain={[0.0074, 27.5]}
        ticks={PCSK9_TICKS} xLabels={PCSK9_X_LABELS} yLabels={PCSK9_Y_LABELS}
        xTitle="Population Prediction (nM)" yTitle="PCSK9 Concentration (nM)"
        healthy={PCSK9_POP_HEALTHY} patient={PCSK9_POP_PATIENT} smooth={PCSK9_POP_SMOOTH}
      />
      <Panel
        boxLeft={371} boxTop={165} boxW={227.3} boxH={95} domain={[0.0075, 25.9]}
        ticks={PCSK9_TICKS} xLabels={PCSK9_X_LABELS} yLabels={PCSK9_Y_LABELS}
        xTitle="Individual Prediction (nM)" yTitle="PCSK9 Concentration (nM)"
        healthy={PCSK9_IND_HEALTHY} patient={PCSK9_IND_PATIENT} smooth={PCSK9_IND_SMOOTH}
      />
      <Panel
        boxLeft={36.7} boxTop={317} boxW={230} boxH={95} domain={[4.26, 357]}
        ticks={LDL_TICKS} xLabels={LDL_X_LABELS} yLabels={LDL_Y_LABELS}
        xTitle="Population Prediction (mg/dL)" yTitle="LDL-C Concentration (mg/dL)"
        healthy={LDL_POP_HEALTHY} patient={LDL_POP_PATIENT}
      />
      <Panel
        boxLeft={371} boxTop={317} boxW={227.3} boxH={95} domain={[4.28, 337]}
        ticks={LDL_TICKS} xLabels={LDL_X_LABELS} yLabels={LDL_Y_LABELS}
        xTitle="Individual Prediction (mg/dL)" yTitle="LDL-C Concentration (mg/dL)"
        healthy={LDL_IND_HEALTHY} patient={LDL_IND_PATIENT}
      />
      <LegendBox />
    </div>
  );
}
